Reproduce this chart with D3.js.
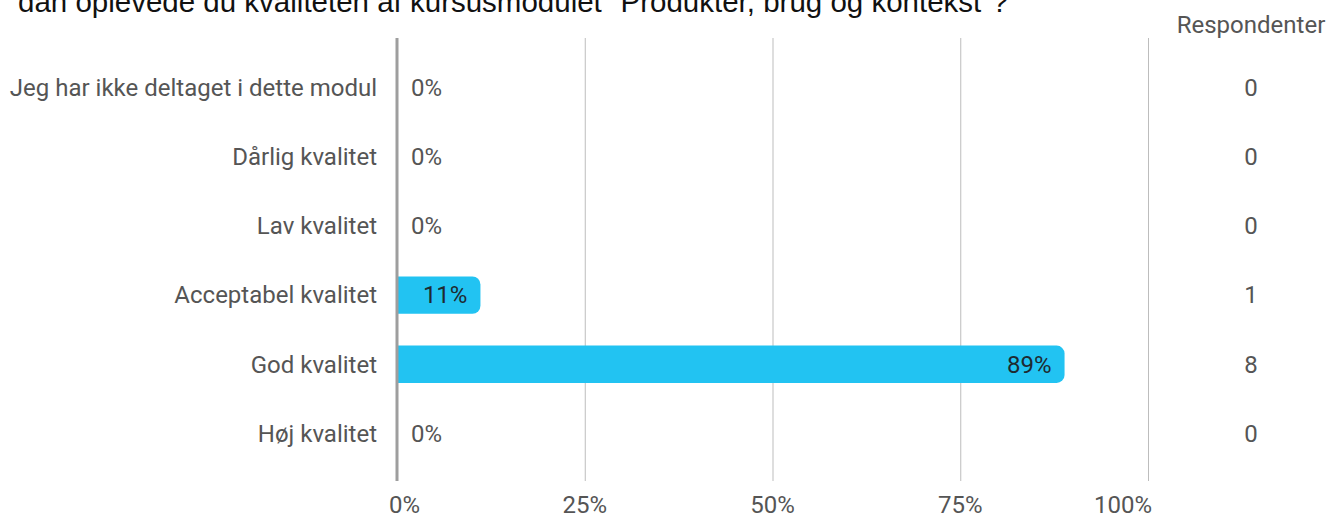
<!DOCTYPE html>
<html>
<head>
<meta charset="utf-8">
<script src="https://cdn.jsdelivr.net/npm/d3@7"></script>
<style>
  body { margin: 0; background: #fff; overflow: hidden; }
  text { font-family: Roboto, sans-serif; }
</style>
</head>
<body>
<div id="chart"></div>
<script>
const width = 1343
const height = 519
const margin = { left: 397, right: 194, top: 38, bottom: 38 }

const title = 'dan oplevede du kvaliteten af kursusmodulet "Produkter, brug og kontekst"?'
const categories = ['Jeg har ikke deltaget i dette modul', 'Dårlig kvalitet', 'Lav kvalitet',
  'Acceptabel kvalitet', 'God kvalitet', 'Høj kvalitet']
const respondents = [0, 0, 0, 1, 8, 0]
const ticks = [0, 0.25, 0.5, 0.75, 1]
const total = d3.sum(respondents)
const rows = categories.map((c, i) => ({ name: c, count: respondents[i], share: respondents[i] / total }))

const formatPercent = d3.format('.0%')

let x_scale = d3.scaleLinear()
  .domain([0, 1])
  .range([margin.left, width - margin.right - 1])
let y_scale = d3.scaleBand()
  .domain(categories)
  .range([53, 468])
  .paddingInner(0.46)
  .paddingOuter(0.23)

const svg = d3.select('#chart')
  .append('svg')
    .attr('width', width)
    .attr('height', height)

// title (clipped at the top like the source)
svg.append('text')
  .attr('x', 18)
  .attr('y', 12)
  .style('font-family', '"Liberation Sans", Arial, sans-serif')
  .style('font-size', '29.5px')
  .attr('fill', '#111')
  .text(title)

// gridlines
svg.append('g')
  .selectAll('line')
  .data(ticks.slice(1))
  .enter().append('line')
    .attr('x1', d => x_scale(d) + 0.5)
    .attr('x2', d => x_scale(d) + 0.5)
    .attr('y1', margin.top)
    .attr('y2', height - margin.bottom)
    .style('stroke', '#bdbdbd')
    .style('stroke-width', 1)

// bars, square at the axis, rounded at the end
const r = 8
const barPath = (x0, x1, y, h) => {
  const rr = Math.min(r, (x1 - x0) / 2)
  return `M${x0},${y}H${x1 - rr}A${rr},${rr} 0 0 1 ${x1},${y + rr}V${y + h - rr}A${rr},${rr} 0 0 1 ${x1 - rr},${y + h}H${x0}Z`
}
svg.append('g')
  .selectAll('path')
  .data(rows.filter(d => d.share > 0))
  .enter().append('path')
    .attr('d', d => barPath(x_scale(0), x_scale(d.share), y_scale(d.name), y_scale.bandwidth()))
    .attr('fill', '#22c3f2')

// y labels
svg.append('g')
  .selectAll('text')
  .data(rows)
  .enter().append('text')
    .attr('x', 377)
    .attr('y', d => y_scale(d.name) + y_scale.bandwidth() / 2)
    .attr('dy', '0.35em')
    .attr('text-anchor', 'end')
    .style('font-size', '24px')
    .attr('fill', '#555')
    .text(d => d.name)

// value labels
svg.append('g')
  .selectAll('text')
  .data(rows)
  .enter().append('text')
    .attr('x', d => d.share > 0 ? x_scale(d.share) - 13 : x_scale(0) + 14)
    .attr('y', d => y_scale(d.name) + y_scale.bandwidth() / 2)
    .attr('dy', '0.35em')
    .attr('text-anchor', d => d.share > 0 ? 'end' : 'start')
    .style('font-size', '24px')
    .attr('fill', d => d.share > 0 ? '#1e2a30' : '#555')
    .text(d => formatPercent(d.share))

// axis line
svg.append('line')
  .attr('x1', x_scale(0))
  .attr('x2', x_scale(0))
  .attr('y1', margin.top)
  .attr('y2', height - margin.bottom)
  .style('stroke', '#9e9e9e')
  .style('stroke-width', 3)

// x tick labels
svg.append('g')
  .selectAll('text')
  .data(ticks)
  .enter().append('text')
    .attr('x', (d, i) => i === 0 ? x_scale(d) - 8 : i === ticks.length - 1 ? x_scale(d) + 4 : x_scale(d))
    .attr('y', 505)
    .attr('dy', '0.35em')
    .attr('text-anchor', (d, i) => i === 0 ? 'start' : i === ticks.length - 1 ? 'end' : 'middle')
    .style('font-size', '24px')
    .attr('fill', '#555')
    .text(d => formatPercent(d))

// respondents column
svg.append('text')
  .attr('x', 1251)
  .attr('y', 25)
  .attr('dy', '0.35em')
  .attr('text-anchor', 'middle')
  .style('font-size', '24px')
  .attr('fill', '#555')
  .text('Respondenter')

svg.append('g')
  .selectAll('text')
  .data(rows)
  .enter().append('text')
    .attr('x', 1251)
    .attr('y', d => y_scale(d.name) + y_scale.bandwidth() / 2)
    .attr('dy', '0.35em')
    .attr('text-anchor', 'middle')
    .style('font-size', '24px')
    .attr('fill', '#555')
    .text(d => d.count)
</script>
</body>
</html>
